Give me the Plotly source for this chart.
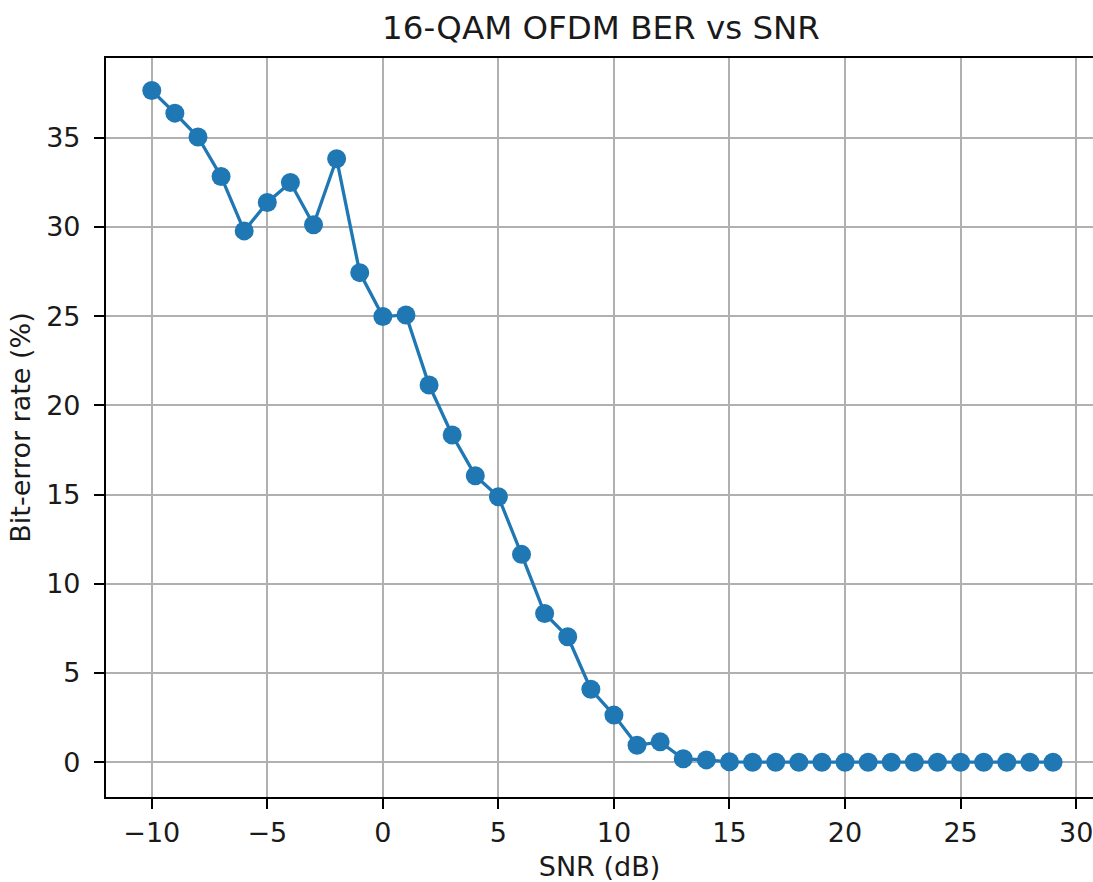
import plotly.graph_objects as go

snr_db = list(range(-10, 30))
ber_pct = [37.65, 36.38, 35.04, 32.83, 29.78, 31.37, 32.49, 30.12, 33.82, 27.44,
           24.98, 25.07, 21.14, 18.34, 16.06, 14.88, 11.65, 8.34, 7.03, 4.09,
           2.64, 0.95, 1.14, 0.19, 0.13, 0.02, 0.0, 0.0, 0.0, 0.0,
           0.0, 0.0, 0.0, 0.0, 0.0, 0.0, 0.0, 0.0, 0.0, 0.0]

title_text = "16-QAM OFDM BER vs SNR"
x_label = "SNR (dB)"
y_label = "Bit-error rate (%)"

FONT = "DejaVu Sans"
BLUE = "#1f77b4"

fig = go.Figure()
fig.add_trace(go.Scatter(
    x=snr_db, y=ber_pct, mode="lines+markers",
    line=dict(color=BLUE, width=3.3),
    marker=dict(color=BLUE, size=19, line=dict(width=0)),
    showlegend=False,
))

fig.update_layout(
    width=1093, height=882,
    margin=dict(l=106, r=0, t=58, b=85, autoexpand=False),
    paper_bgcolor="white", plot_bgcolor="white",
    font=dict(family=FONT, color="#1a1a1a", size=27),
    title=dict(text=title_text, x=601/1093, xref="container", xanchor="center",
               y=1 - 28/882, yref="container", yanchor="middle",
               font=dict(family=FONT, size=32.5, color="#1a1a1a")),
)
fig.update_xaxes(
    range=[-11.98, 30.73], tickmode="linear", tick0=-10, dtick=5,
    showgrid=True, gridcolor="#b0b0b0", gridwidth=2,
    zeroline=False, showline=True, linecolor="black", linewidth=2.2, mirror=True,
    ticks="outside", ticklen=10, tickwidth=2.2, tickcolor="black",
    tickfont=dict(family=FONT, size=27), automargin=False, ticklabeloverflow="allow",
    title=dict(text=x_label, font=dict(family=FONT, size=27), standoff=14),
)
fig.update_yaxes(
    range=[-1.95, 39.47], tickmode="linear", tick0=0, dtick=5,
    showgrid=True, gridcolor="#b0b0b0", gridwidth=2,
    zeroline=False, showline=True, linecolor="black", linewidth=2.2, mirror=False,
    ticks="outside", ticklen=10, tickwidth=2.2, tickcolor="black",
    tickfont=dict(family=FONT, size=27), ticklabelstandoff=8, automargin=False,
    title=dict(text=y_label, font=dict(family=FONT, size=27), standoff=8),
)

fig.write_html("out.html", config={"displayModeBar": False},
               post_script="document.body.style.margin='0';document.body.style.overflow='hidden';")
